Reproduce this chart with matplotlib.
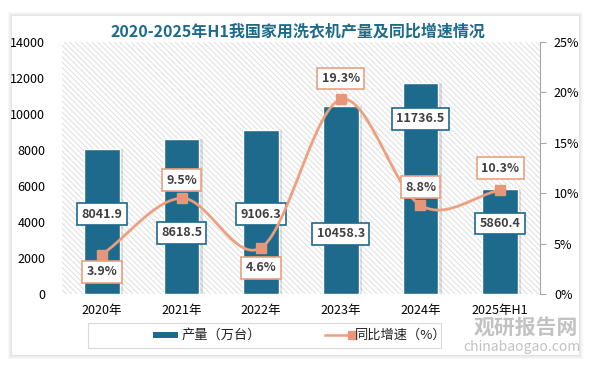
import numpy as np
import matplotlib.pyplot as plt
from matplotlib.patches import Rectangle
from matplotlib.lines import Line2D

plt.rcParams['font.family'] = ['Noto Sans CJK SC', 'DejaVu Sans']
plt.rcParams['hatch.linewidth'] = 0.6
plt.rcParams['hatch.color'] = '#D9D9D9'

years = ['2020年', '2021年', '2022年', '2023年', '2024年', '2025年H1']
output = [8041.9, 8618.5, 9106.3, 10458.3, 11736.5, 5860.4]
growth = [3.9, 9.5, 4.6, 19.3, 8.8, 10.3]

bar_color = '#1D6A8C'
line_color = '#EC9F7F'
marker_color = '#E8967A'

# label offsets in pixels (style only)
bar_lab_dy = [-65, -94, -84, -128, -36, -35]
line_lab_dy = [-17, 18, -20, 21, 18, 22]


def catmull_rom(xs, ys, n=30):
    xs = np.asarray(xs, float)
    ys = np.asarray(ys, float)
    px = np.concatenate([[2 * xs[0] - xs[1]], xs, [2 * xs[-1] - xs[-2]]])
    py = np.concatenate([[2 * ys[0] - ys[1]], ys, [2 * ys[-1] - ys[-2]]])
    outx, outy = [], []
    t = np.linspace(0, 1, n)
    for i in range(1, len(px) - 2):
        for p, out in ((px, outx), (py, outy)):
            p0, p1, p2, p3 = p[i - 1], p[i], p[i + 1], p[i + 2]
            out.extend(0.5 * ((2 * p1) + (-p0 + p2) * t
                              + (2 * p0 - 5 * p1 + 4 * p2 - p3) * t ** 2
                              + (-p0 + 3 * p1 - 3 * p2 + p3) * t ** 3))
    return np.array(outx), np.array(outy)


fig = plt.figure(figsize=(5.96, 3.68), dpi=100)
fig.patch.set_facecolor('white')

# card with soft shadow
W, H = 596, 368
for k, a in enumerate([0.05, 0.05, 0.05, 0.06]):
    d = 4 - k
    fig.patches.append(Rectangle(((12 - d) / W, (368 - 355 - d) / H),
                                 (567 + 2 * d) / W, (339 + 2 * d) / H,
                                 transform=fig.transFigure, facecolor='#808080',
                                 edgecolor='none', alpha=a, zorder=0))
fig.patches.append(Rectangle((12 / W, 13 / H), 567 / W, 339 / H,
                             transform=fig.transFigure, facecolor='white',
                             edgecolor='none', zorder=1))

ax = fig.add_axes([62 / W, 74 / H, 478 / W, 252 / H])
ax.set_zorder(2)
ax.patch.set_visible(False)
ax.add_patch(Rectangle((0, 0), 1, 1, transform=ax.transAxes, facecolor='white',
                       hatch='\\\\\\\\\\\\', edgecolor='#D9D9D9', linewidth=0, zorder=0))

x = np.arange(len(years))
ax.bar(x + 0.04, output, width=0.45, color='#000000', alpha=0.12, zorder=1)
ax.bar(x, output, width=0.45, color=bar_color, edgecolor='white', linewidth=1, zorder=2)
ax.set_xlim(-0.5, len(years) - 0.5)
ax.set_ylim(0, 14000)
ax.set_yticks(np.arange(0, 14001, 2000))
ax.set_xticks(x)
ax.set_xticklabels(years)
for s in ax.spines.values():
    s.set_visible(False)
ax.tick_params(axis='both', length=0, labelsize=9, colors='black')
ax.tick_params(axis='y', pad=12)
ax.tick_params(axis='x', pad=7)

for xi, v, dy in zip(x, output, bar_lab_dy):
    ax.annotate(f'{v:.1f}', (xi, v), xytext=(0, dy), textcoords='offset pixels',
                ha='center', va='center', fontsize=9, fontweight='bold', color='#404040',
                bbox=dict(boxstyle='square,pad=0.35', facecolor='white',
                          edgecolor=bar_color, linewidth=1.2), zorder=6)

ax2 = ax.twinx()
ax2.set_zorder(3)
ax2.set_ylim(0, 25)
ax2.set_yticks(np.arange(0, 26, 5))
ax2.set_yticklabels([f'{v}%' for v in range(0, 26, 5)])
for s in ['top', 'left', 'bottom']:
    ax2.spines[s].set_visible(False)
ax2.spines['right'].set_color('#A6A6A6')
ax2.tick_params(axis='y', length=4, color='#A6A6A6', labelsize=9, pad=6)

sx, sy = catmull_rom(x, growth)
ax2.plot(sx, sy, color=line_color, linewidth=2.5, alpha=0.25, zorder=3)
ax2.plot(sx, sy, color=line_color, linewidth=1.8, zorder=4)
ax2.plot(x, growth, linestyle='none', marker='s', markersize=7,
         color=marker_color, zorder=5)
for xi, v, dy in zip(x, growth, line_lab_dy):
    ax2.annotate(f'{v}%', (xi, v), xytext=(0, dy), textcoords='offset pixels',
                 ha='center', va='center', fontsize=9, fontweight='bold', color='#404040',
                 bbox=dict(boxstyle='square,pad=0.35', facecolor='white',
                           edgecolor=line_color, linewidth=1.2), zorder=6)

fig.text(298 / W, 1 - 31 / H, '2020-2025年H1我国家用洗衣机产量及同比增速情况',
         ha='center', va='center', fontsize=11.5, fontweight='bold', color='#1D6A8C',
         zorder=5)

# legend
fig.patches.append(Rectangle((88 / W, (H - 348) / H), 353 / W, 25 / H,
                             transform=fig.transFigure, facecolor='white',
                             edgecolor='#D9D9D9', linewidth=0.8, zorder=4))
fig.patches.append(Rectangle((153 / W, (H - 338) / H), 25 / W, 6 / H,
                             transform=fig.transFigure, facecolor=bar_color,
                             edgecolor='none', zorder=5))
fig.text(182 / W, 1 - 335 / H, '产量（万台）', ha='left', va='center', fontsize=9.5,
         color='#222222', zorder=6)
fig.lines.append(Line2D([325 / W, 352 / W], [(H - 335) / H] * 2, transform=fig.transFigure,
                        color=line_color, linewidth=1.8, marker='s', markevery=[1],
                        markersize=6, markerfacecolor=marker_color,
                        markeredgecolor=marker_color, zorder=5))
fig.text(355 / W, 1 - 335 / H, '同比增速（%）', ha='left', va='center', fontsize=9.5,
         color='#222222', zorder=6)

# watermark
fig.text(526 / W, 1 - 327 / H, '观研报告网', ha='center', va='center', fontsize=15,
         fontweight='bold', color='#A8A8A8', alpha=0.7, zorder=7)
fig.text(522 / W, 1 - 347 / H, 'chinabaogao.com', ha='center', va='center', fontsize=10,
         color='#A8A8A8', alpha=0.7, zorder=7)

fig.savefig('out.png', dpi=100, facecolor='white')
